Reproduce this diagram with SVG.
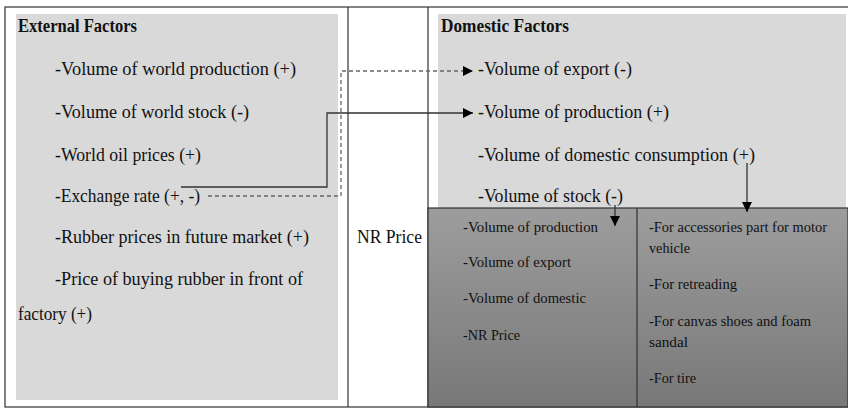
<svg xmlns="http://www.w3.org/2000/svg" width="848" height="411" viewBox="0 0 848 411">
<defs>
<linearGradient id="dark" x1="0" y1="0" x2="0" y2="1">
<stop offset="0" stop-color="#9d9d9d"/>
<stop offset="1" stop-color="#787878"/>
</linearGradient>
<marker id="arr" viewBox="0 0 10 10" refX="10" refY="5" markerWidth="10" markerHeight="10" markerUnits="userSpaceOnUse" orient="auto">
<path d="M0,0 L10,5 L0,10 z" fill="#000"/>
</marker>
</defs>
<style>
text{font-family:"Liberation Serif","Times New Roman",serif;fill:#111;}
.t{font-size:18px;}
.b{font-size:18px;font-weight:bold;}
.s{font-size:15px;}
.frame{fill:none;stroke:#333;stroke-width:1.2;}
.light{fill:#d9d9d9;}
.solid{fill:none;stroke:#333;stroke-width:1.3;}
.dash{fill:none;stroke:#666;stroke-width:1.3;stroke-dasharray:4 3;}
</style>
<rect x="0" y="0" width="848" height="411" fill="#fff"/>

<g id="frame">
<rect class="frame" x="5" y="7" width="850" height="400"/>
<line class="frame" x1="348" y1="7" x2="348" y2="407"/>
<line class="frame" x1="428" y1="7" x2="428" y2="407"/>
</g>

<g id="external">
<rect class="light" x="16" y="14" width="322" height="386"/>
<text class="b" x="18" y="32" textLength="119" lengthAdjust="spacingAndGlyphs">External Factors</text>
<text class="t" x="55" y="75" textLength="241" lengthAdjust="spacingAndGlyphs">-Volume of world production (+)</text>
<text class="t" x="55" y="118" textLength="194" lengthAdjust="spacingAndGlyphs">-Volume of world stock (-)</text>
<text class="t" x="55" y="161" textLength="146" lengthAdjust="spacingAndGlyphs">-World oil prices (+)</text>
<text class="t" x="55" y="202" textLength="145" lengthAdjust="spacingAndGlyphs">-Exchange rate (+, -)</text>
<text class="t" x="55" y="243" textLength="254" lengthAdjust="spacingAndGlyphs">-Rubber prices in future market (+)</text>
<text class="t" x="55" y="285" textLength="248" lengthAdjust="spacingAndGlyphs">-Price of buying rubber in front of</text>
<text class="t" x="18" y="320" textLength="74" lengthAdjust="spacingAndGlyphs">factory (+)</text>
</g>

<g id="nrprice">
<text class="t" x="357" y="243" textLength="65" lengthAdjust="spacingAndGlyphs">NR Price</text>
</g>

<g id="domestic">
<rect class="light" x="438" y="14" width="408" height="194"/>
<text class="b" x="441" y="32" textLength="128" lengthAdjust="spacingAndGlyphs">Domestic Factors</text>
<text class="t" x="478" y="75" textLength="154" lengthAdjust="spacingAndGlyphs">-Volume of export (-)</text>
<text class="t" x="478" y="118" textLength="191" lengthAdjust="spacingAndGlyphs">-Volume of production (+)</text>
<text class="t" x="478" y="161" textLength="277" lengthAdjust="spacingAndGlyphs">-Volume of domestic consumption (+)</text>
<text class="t" x="478" y="202" textLength="145" lengthAdjust="spacingAndGlyphs">-Volume of stock (-)</text>
</g>

<g id="breakdown">
<rect x="428" y="208" width="420" height="199" fill="url(#dark)" stroke="#333" stroke-width="1.2"/>
<line x1="637" y1="208" x2="637" y2="407" stroke="#333" stroke-width="1.2"/>
<text class="s" x="463" y="232" textLength="135" lengthAdjust="spacingAndGlyphs">-Volume of production</text>
<text class="s" x="463" y="267" textLength="108" lengthAdjust="spacingAndGlyphs">-Volume of export</text>
<text class="s" x="463" y="303" textLength="123" lengthAdjust="spacingAndGlyphs">-Volume of domestic</text>
<text class="s" x="463" y="340" textLength="57" lengthAdjust="spacingAndGlyphs">-NR Price</text>
<text class="s" x="649" y="232" textLength="178" lengthAdjust="spacingAndGlyphs">-For accessories part for motor</text>
<text class="s" x="649" y="253" textLength="41" lengthAdjust="spacingAndGlyphs">vehicle</text>
<text class="s" x="649" y="289" textLength="88" lengthAdjust="spacingAndGlyphs">-For retreading</text>
<text class="s" x="649" y="326" textLength="162" lengthAdjust="spacingAndGlyphs">-For canvas shoes and foam</text>
<text class="s" x="649" y="347" textLength="39" lengthAdjust="spacingAndGlyphs">sandal</text>
<text class="s" x="649" y="383" textLength="47" lengthAdjust="spacingAndGlyphs">-For tire</text>
</g>

<g id="connectors">
<path class="dash" d="M208,196 H341 V71 H473" marker-end="url(#arr)"/>
<path class="solid" d="M181,187 H327 V113 H473" marker-end="url(#arr)"/>
<path class="solid" d="M747,163 V212" marker-end="url(#arr)"/>
<path class="solid" d="M615,205 V226" marker-end="url(#arr)"/>
</g>
</svg>
